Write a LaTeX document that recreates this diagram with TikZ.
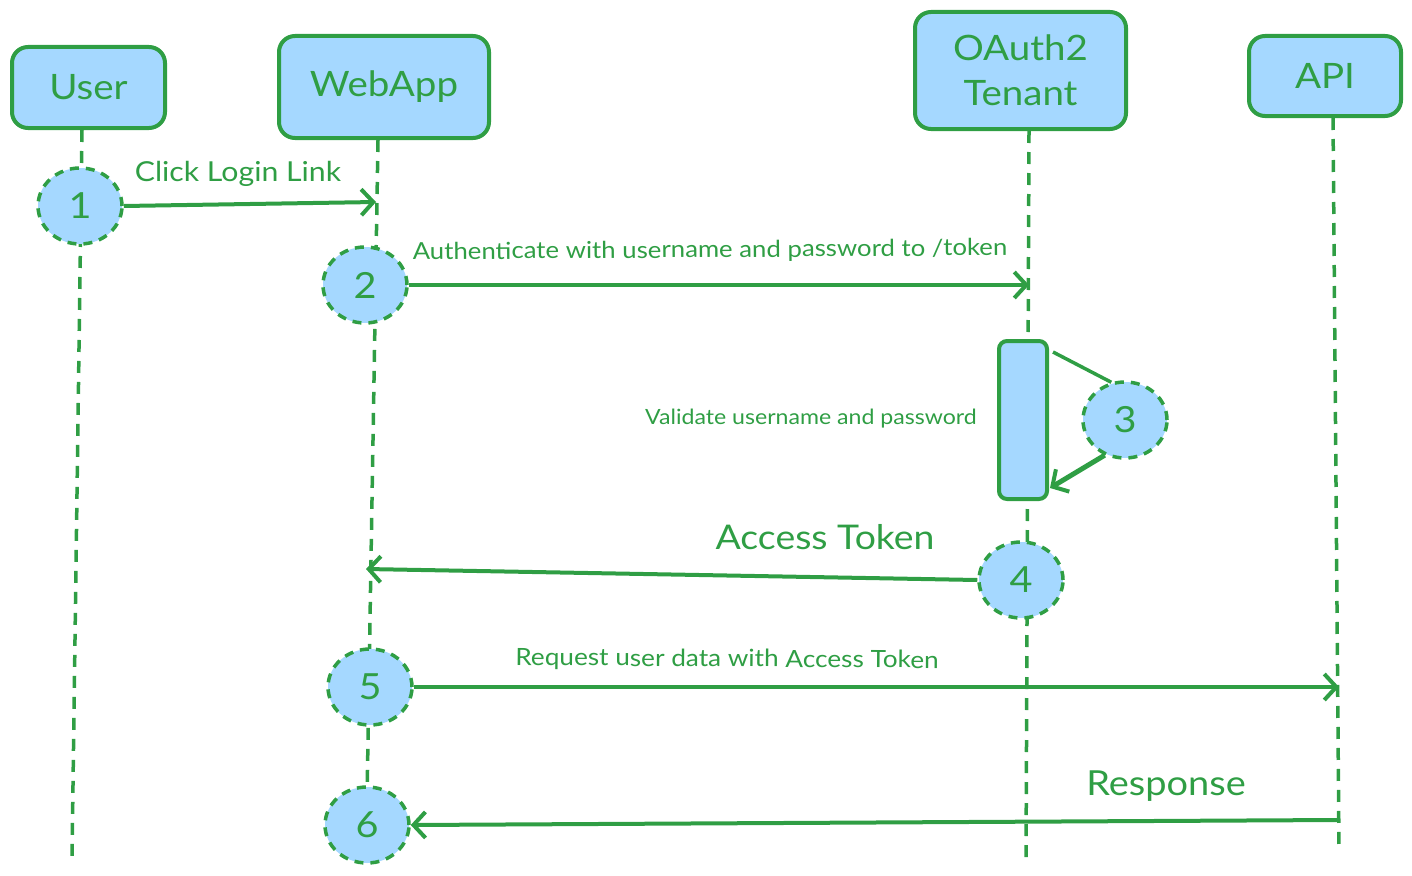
\documentclass[tikz,border=0pt]{standalone}
\usepackage{fontspec}
\setmainfont{Lato}[FakeStretch=1.1]
\usetikzlibrary{arrows.meta,shapes.geometric}
\definecolor{gr}{HTML}{2F9E44}
\definecolor{bl}{HTML}{A5D8FF}
\begin{document}
\begin{tikzpicture}[x=1pt,y=-1pt,
 actor/.style={draw=gr,fill=bl,line width=4pt,rounded corners=16pt,inner sep=0pt,text=gr,font=\fontsize{35}{45}\selectfont,align=center},
 stepc/.style={ellipse,draw=gr,fill=bl,line width=3.5pt,dash pattern=on 9pt off 7pt,minimum width=84pt,minimum height=76pt,inner sep=0pt,text=gr,font=\fontsize{36}{40}\selectfont},
 life/.style={draw=gr,line width=3.5pt,dash pattern=on 12pt off 9pt},
 msg/.style={draw=gr,line width=4pt,-{Straight Barb[length=12pt,width=26pt,line width=4pt]}},
 plain/.style={draw=gr,line width=3.5pt},
 lbl/.style={text=gr,inner sep=0pt}]
\useasboundingbox (0,0) rectangle (1412,875);

% actors
\node[actor,minimum width=153pt,minimum height=81pt] (user) at (88.5,87.5) {User};
\node[actor,minimum width=210pt,minimum height=102pt] (webapp) at (384,87) {WebApp};
\node[actor,minimum width=211pt,minimum height=117pt] (oauth) at (1020.5,70.5) {OAuth2\\Tenant};
\node[actor,minimum width=152pt,minimum height=80pt] (api) at (1325,76) {API};

% lifeline ends
\coordinate (userE) at (72,858);
\coordinate (webE) at (367,800);
\coordinate (oauthE) at (1026,865);
\coordinate (apiE) at (1339,852);
\draw[life] (82,130) -- (userE);
\draw[life] (378,140) -- (webE);
\draw[life] (1029,131) -- (oauthE);
\draw[life] (1333,118) -- (apiE);

% activation
\node[draw=gr,fill=bl,line width=4pt,rounded corners=8pt,minimum width=48pt,minimum height=158pt,inner sep=0pt] (act) at (1023,420) {};

% steps
\node[stepc] (s1) at (80,206) {1};
\node[stepc] (s2) at (365,285) {2};
\node[stepc] (s3) at (1125,420) {3};
\node[stepc] (s4) at (1021,580) {4};
\node[stepc] (s5) at (370,687) {5};
\node[stepc] (s6) at (367,825) {6};

% message targets
\coordinate (w1) at (376,202);
\coordinate (o2) at (1029,285);
\coordinate (w4) at (366,569);
\coordinate (a5) at (1339,687);
\coordinate (a6) at (1337,820);
\coordinate (act3a) at (1053,352);
\coordinate (act3b) at (1050,488);

\draw[msg] (s1.east) -- (w1);
\draw[msg] (s2.east) -- (o2);
\draw[plain] (act3a) -- (s3.110);
\draw[msg,line width=5pt] (s3.240) -- (act3b);
\draw[msg] (s4.west) -- (w4);
\draw[msg] (s5.east) -- (a5);
\draw[msg] (a6) -- (s6.east);

% labels
\node[lbl,font=\fontsize{27.5}{32}\selectfont] (l1) at (238,174) {Click Login Link};
\node[lbl,font=\fontsize{23.4}{26}\selectfont,rotate=0.4] (l2) at (710,251) {Authenticate with username and password to /token};
\node[lbl,font=\fontsize{21}{24}\selectfont] (l3) at (811,419) {Validate username and password};
\node[lbl,font=\fontsize{34}{38}\selectfont] (l4) at (825,537) {Access Token};
\node[lbl,font=\fontsize{23.8}{26}\selectfont,rotate=-0.4] (l5) at (727,660) {Request user data with Access Token};
\node[lbl,font=\fontsize{34.5}{38}\selectfont] (l6) at (1166,786) {Response};
\end{tikzpicture}
\end{document}
